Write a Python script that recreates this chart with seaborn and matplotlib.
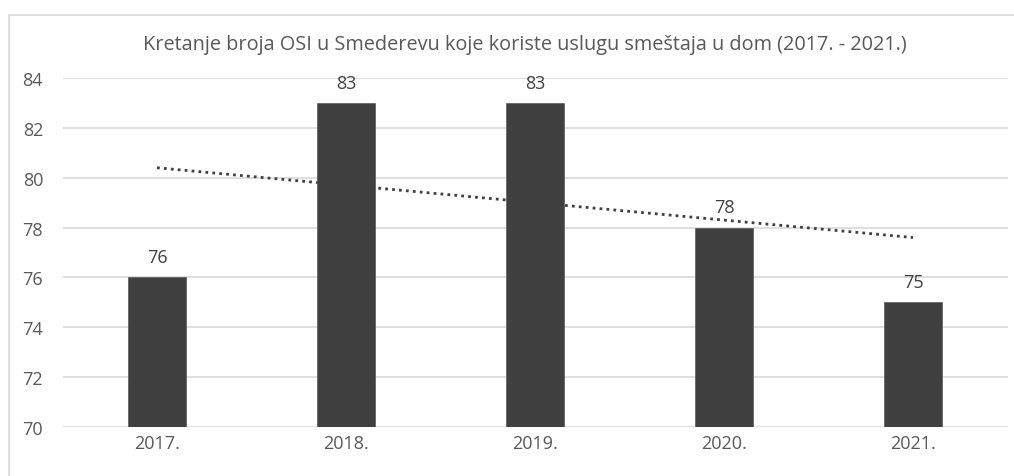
import numpy as np
import pandas as pd
import seaborn as sns
import matplotlib.pyplot as plt
from matplotlib.lines import Line2D

# data
years = ["2017.", "2018.", "2019.", "2020.", "2021."]
counts = [76, 83, 83, 78, 75]
title = "Kretanje broja OSI u Smederevu koje koriste uslugu smeštaja u dom (2017. - 2021.)"

df = pd.DataFrame({"godina": years, "broj": counts})

sns.set_style("white")
plt.rcParams["font.family"] = ["Open Sans", "DejaVu Sans"]

fig = plt.figure(figsize=(10.14, 4.77), dpi=100)
ax = fig.add_axes([62.5 / 1014, 1 - 428 / 477, 945 / 1014, 349 / 477])

# trend line first so the bars sit on top of it
x = np.arange(len(counts))
k, b = np.polyfit(x, counts, 1)
ax.plot(x, k * x + b, linestyle=(0, (1, 1.5)), color="#404040", lw=2.0, zorder=1)

sns.barplot(data=df, x="godina", y="broj", color="#404040", width=0.31,
            saturation=1, ax=ax, zorder=2, edgecolor="#595959", linewidth=0.5)

ax.set_ylim(70, 84)
ax.set_yticks(range(70, 85, 2))
ax.grid(axis="y", color="#d9d9d9", lw=1.2, zorder=0)
ax.set_axisbelow(True)
for s in ax.spines.values():
    s.set_visible(False)
ax.set_xlabel("")
ax.set_ylabel("")
ax.tick_params(axis="both", length=0, labelsize=13, colors="#595959")
ax.tick_params(axis="y", pad=14)
ax.tick_params(axis="x", pad=5)

for i, v in enumerate(counts):
    ax.text(i, v + 0.45, str(v), ha="center", va="bottom", fontsize=13, color="#404040")

fig.text(525 / 1014, 1 - 45 / 477, title, ha="center", va="center", fontsize=14.3, color="#595959")

# chart frame edges (top and left visible in the crop)
fig.add_artist(Line2D([9 / 1014, 9 / 1014], [0, 1 - 16 / 477], transform=fig.transFigure,
                      color="#d9d9d9", lw=1.2))
fig.add_artist(Line2D([9 / 1014, 1], [1 - 16 / 477, 1 - 16 / 477], transform=fig.transFigure,
                      color="#d9d9d9", lw=1.2))

fig.savefig("out.png", dpi=100)
